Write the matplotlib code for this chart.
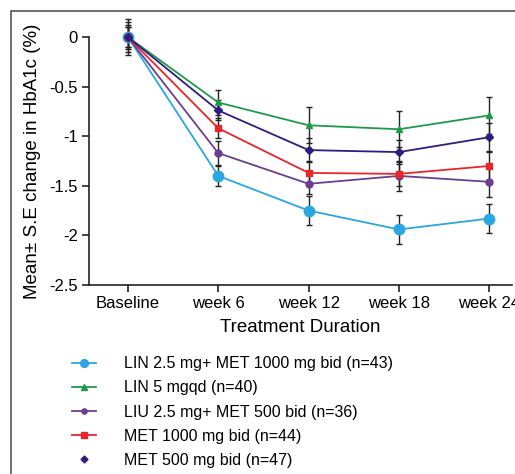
import matplotlib
matplotlib.use("Agg")
import matplotlib.pyplot as plt
from matplotlib.patches import Rectangle
from matplotlib.lines import Line2D

plt.rcParams['font.family'] = ['Liberation Sans', 'DejaVu Sans']

categories = ["Baseline", "week 6", "week 12", "week 18", "week 24"]

labels = [
    "LIN 2.5 mg+ MET 1000 mg bid (n=43)",
    "LIN 5 mgqd (n=40)",
    "LIU 2.5 mg+ MET 500 bid (n=36)",
    "MET 1000 mg bid (n=44)",
    "MET 500 mg bid (n=47)",
]
lin25_met1000 = [0.0, -1.40, -1.75, -1.94, -1.83]
lin5 = [0.0, -0.66, -0.89, -0.93, -0.79]
liu25_met500 = [0.0, -1.17, -1.48, -1.40, -1.46]
met1000 = [0.0, -0.92, -1.37, -1.38, -1.30]
met500 = [0.0, -0.74, -1.14, -1.16, -1.01]

se_lin25_met1000 = [0.15, 0.10, 0.15, 0.15, 0.15]
se_lin5 = [0.12, 0.13, 0.18, 0.18, 0.19]
se_liu25_met500 = [0.18, 0.12, 0.10, 0.15, 0.15]
se_met1000 = [0.10, 0.10, 0.12, 0.12, 0.14]
se_met500 = [0.10, 0.10, 0.12, 0.12, 0.14]

yticks = [0, -0.5, -1, -1.5, -2, -2.5]
yticklabels = ["0", "-0.5", "-1", "-1.5", "-2", "-2.5"]

W, H = 515, 474
fig = plt.figure(figsize=(W / 100, H / 100), dpi=100)

# outer frame (left and top visible)
fig.patches.append(Rectangle((11 / W, -0.1), 1.2, 1 - 11 / H + 0.1, transform=fig.transFigure,
                             fill=False, edgecolor='#555555', linewidth=1.2))

ax_l, ax_r, ax_t, ax_b = 89, 512, 37, 285
ax = fig.add_axes([ax_l / W, 1 - ax_b / H, (ax_r - ax_l) / W, (ax_b - ax_t) / H])

x = list(range(len(categories)))
series = [
    (lin25_met1000, se_lin25_met1000, '#2BA6DE', 'o', 7.5),
    (lin5, se_lin5, '#1F9A4B', '^', 5),
    (liu25_met500, se_liu25_met500, '#6B3E90', 'o', 5),
    (met1000, se_met1000, '#E8262A', 's', 5),
    (met500, se_met500, '#2A1F80', 'D', 4.5),
]
for vals, se, col, mk, ms in series:
    ax.errorbar(x, vals, yerr=se, fmt='none', ecolor='#222222', elinewidth=1.0,
                capsize=2.5, capthick=1.0, clip_on=False, zorder=2)
for vals, se, col, mk, ms in series:
    ax.plot(x, vals, color=col, marker=mk, markersize=ms, linewidth=1.3,
            clip_on=False, zorder=3)

handles = []
for i, (vals, se, col, mk, ms) in enumerate(series):
    if i == 4:
        h = Line2D([], [], color=col, marker=mk, markersize=3.5, linestyle='none')
    else:
        h = Line2D([], [], color=col, marker=mk, markersize=ms * 0.75, linewidth=1.3)
    handles.append(h)

ax.set_xlim(-0.43, 4.25)
ax.set_ylim(-2.5, 0)
ax.set_xticks(x)
ax.set_xticklabels(categories, fontsize=12)
ax.set_yticks(yticks)
ax.set_yticklabels(yticklabels, fontsize=12)
ax.spines['top'].set_visible(False)
ax.spines['right'].set_visible(False)
for s in ['left', 'bottom']:
    ax.spines[s].set_linewidth(1.2)
    ax.spines[s].set_color('#222222')
ax.tick_params(direction='out', length=5, width=1.2, color='#222222', pad=3)
ax.set_xlabel("Treatment Duration", fontsize=13.5, labelpad=6)
ax.set_ylabel("Mean± S.E change in HbA1c (%)", fontsize=13.5, labelpad=6)

leg = fig.legend(handles, labels, loc='upper left', bbox_to_anchor=(66 / W, 1 - 350 / H),
                 frameon=False, fontsize=11.5, handlelength=1.5, handletextpad=1.75,
                 labelspacing=0.57, borderaxespad=0)

fig.savefig("out.png", dpi=100)
